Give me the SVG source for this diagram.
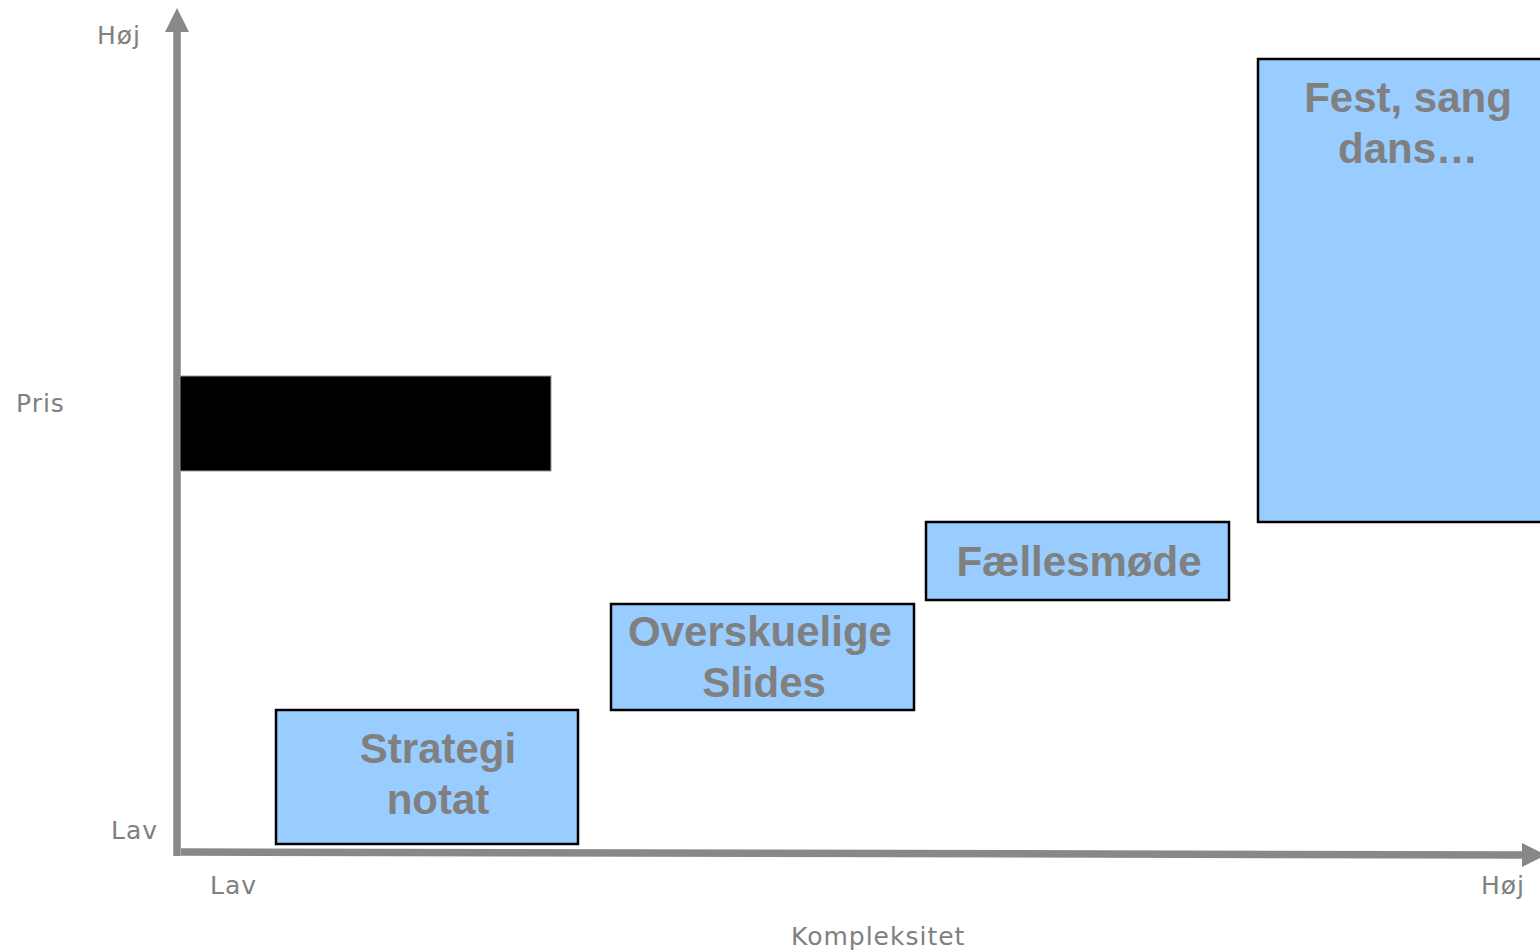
<svg xmlns="http://www.w3.org/2000/svg" width="1540" height="952" viewBox="0 0 1540 952">
<style>
.lbl{font-family:"DejaVu Sans",Verdana,sans-serif;font-size:25px;letter-spacing:1px;fill:#808080}
.box{fill:#99ccff;stroke:#000;stroke-width:2.5}
.bt{font-family:"Liberation Sans",Arial,sans-serif;font-weight:bold;font-size:42px;fill:#808080;text-anchor:middle}
.axis{stroke:#888;stroke-width:7.5;fill:none}
</style>
<rect width="1540" height="952" fill="#fff"/>
<g id="axes">
<line class="axis" x1="177" y1="856" x2="177" y2="30"/>
<polygon points="165,32 177,8 189,32" fill="#888"/>
<line class="axis" x1="181" y1="852" x2="1524" y2="855"/>
<polygon points="1522,843 1546,855 1522,867" fill="#888"/>
</g>
<g id="labels">
<text class="lbl" x="97" y="44">Høj</text>
<text class="lbl" x="16" y="412">Pris</text>
<text class="lbl" x="111" y="839">Lav</text>
<text class="lbl" x="210" y="894">Lav</text>
<text class="lbl" x="1481" y="894">Høj</text>
<text class="lbl" x="791" y="945">Kompleksitet</text>
</g>
<g id="black-bar">
<rect x="180" y="376" width="371" height="95" fill="#000" stroke="#999" stroke-width="1"/>
</g>
<g id="strategi">
<rect class="box" x="276" y="710" width="302" height="134"/>
<text class="bt" x="438" y="763">Strategi</text>
<text class="bt" x="438" y="814">notat</text>
</g>
<g id="slides">
<rect class="box" x="611" y="604" width="303" height="106"/>
<text class="bt" x="760" y="646">Overskuelige</text>
<text class="bt" x="764" y="697">Slides</text>
</g>
<g id="faelles">
<rect class="box" x="926" y="522" width="303" height="78"/>
<text class="bt" x="1079" y="576">Fællesmøde</text>
</g>
<g id="fest">
<rect class="box" x="1258" y="59" width="300" height="463"/>
<text class="bt" x="1408" y="112">Fest, sang</text>
<text class="bt" x="1408" y="163">dans…</text>
</g>
</svg>
